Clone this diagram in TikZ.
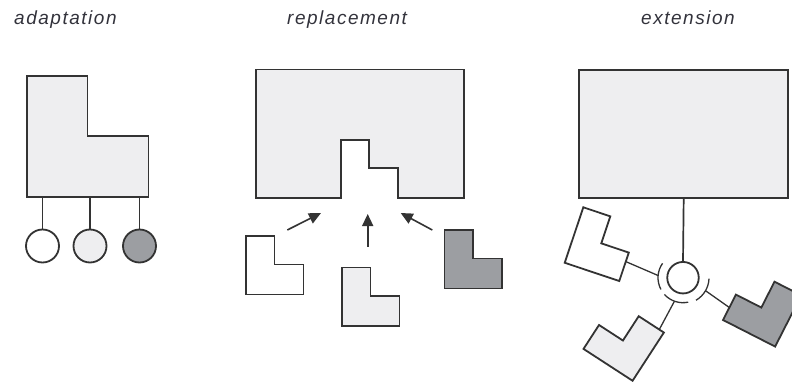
\documentclass[tikz,border=0pt]{standalone}
\usepackage{fontspec}
\newfontfamily\lblfont[LetterSpace=8]{Liberation Sans}
\usetikzlibrary{arrows.meta,calc}
\definecolor{lightfill}{HTML}{EEEEF0}
\definecolor{darkfill}{HTML}{9C9EA2}
\definecolor{linec}{HTML}{333333}
\definecolor{textc}{HTML}{33333C}
\tikzset{
  lbl/.style={font=\lblfont\itshape\fontsize{19}{22}\selectfont, text=textc, inner sep=0pt, anchor=base west},
  outline/.style={draw=linec, line width=1.8pt, line join=miter},
  stem/.style={draw=linec, line width=1.7pt},
  conn/.style={draw=linec, line width=1.3pt},
  arr/.style={draw=linec, line width=1.6pt, -{Triangle[length=12pt,width=11pt]}},
  Lpiece/.pic={
    \path[pic actions] (0,0) -- (28.5,0) -- (28.5,-28.5) -- (57.5,-28.5) -- (57.5,-58.5) -- (0,-58.5) -- cycle;
    \coordinate (-r) at (57.5,-38);
    \coordinate (-r2) at (57.5,-53);
    \coordinate (-t) at (14,0);
  }
}
\begin{document}
\begin{tikzpicture}[x=1pt,y=1pt]
\useasboundingbox (0,0) rectangle (792,-382);
\clip (0,0) rectangle (792,-382);
% titles
\node[lbl] (tA) at (14,-25) {adaptation};
\node[lbl] (tR) at (287,-25) {replacement};
\node[lbl] (tE) at (641,-25) {extension};

% ---------- adaptation ----------
\path[outline, fill=lightfill] (27,-76) -- (87.5,-76) -- (87.5,-136) -- (148.5,-136) -- (148.5,-197) -- (27,-197) -- cycle;
\coordinate (s1) at (42.5,-197);
\coordinate (s2) at (90,-197);
\coordinate (s3) at (139.5,-197);
\node[circle, outline, fill=white, minimum size=33pt, inner sep=0pt] (c1) at (42.5,-246) {};
\node[circle, outline, fill=lightfill, minimum size=33pt, inner sep=0pt] (c2) at (90,-246) {};
\node[circle, outline, fill=darkfill, minimum size=33pt, inner sep=0pt] (c3) at (139.5,-246) {};
\draw[stem] (s1) -- (c1);
\draw[stem] (s2) -- (c2);
\draw[stem] (s3) -- (c3);

% ---------- replacement ----------
\path[outline, fill=lightfill] (256,-69.5) -- (464,-69.5) -- (464,-198) -- (398,-198) -- (398,-168) -- (369,-168) -- (369,-140) -- (341,-140) -- (341,-198) -- (256,-198) -- cycle;
\pic[outline, fill=white] (rw) at (246,-236) {Lpiece};
\pic[outline, fill=lightfill] (rl) at (342,-267.5) {Lpiece};
\pic[outline, fill=darkfill] (rd) at (444.5,-230) {Lpiece};
\coordinate (a1s) at (287.3,-230);
\coordinate (a1e) at (321,-213);
\coordinate (a2s) at (367.7,-246.7);
\coordinate (a2e) at (367.7,-214);
\coordinate (a3s) at (432.3,-230);
\coordinate (a3e) at (400.7,-213);
\draw[arr] (a1s) -- (a1e);
\draw[arr] (a2s) -- (a2e);
\draw[arr] (a3s) -- (a3e);

% ---------- extension ----------
\node[outline, fill=lightfill, minimum width=209pt, minimum height=127.5pt, inner sep=0pt, anchor=north west] (ext) at (578.3,-69.5) {};
\node[circle, outline, fill=white, minimum size=31.5pt, inner sep=0pt] (hub) at (683,-277.7) {};
\draw[stem] (ext.south) -- (hub.north);
\pic[outline, fill=white, rotate=-18.5] (ew) at (583.3,-207.3) {Lpiece};
\pic[outline, fill=lightfill, rotate=57] (el) at (583.5,-348.9) {Lpiece};
\pic[outline, fill=darkfill, rotate=63] (ed) at (723,-320) {Lpiece};
% sockets
\coordinate (sw) at ($(hub.center)+(175:25)$);
\coordinate (sl) at ($(hub.center)+(250:25)$);
\coordinate (sd) at ($(hub.center)+(330:26)$);
\draw[conn] ($(hub.center)+(145:25)$) arc[start angle=145, end angle=208, radius=25];
\draw[conn] ($(hub.center)+(222:25)$) arc[start angle=222, end angle=282, radius=25];
\draw[conn] ($(hub.center)+(300:26)$) arc[start angle=300, end angle=358, radius=26];
\draw[conn] (ew-r) -- (sw);
\draw[conn] (el-r2) -- (sl);
\draw[conn] (ed-t) -- (sd);
\end{tikzpicture}
\end{document}
